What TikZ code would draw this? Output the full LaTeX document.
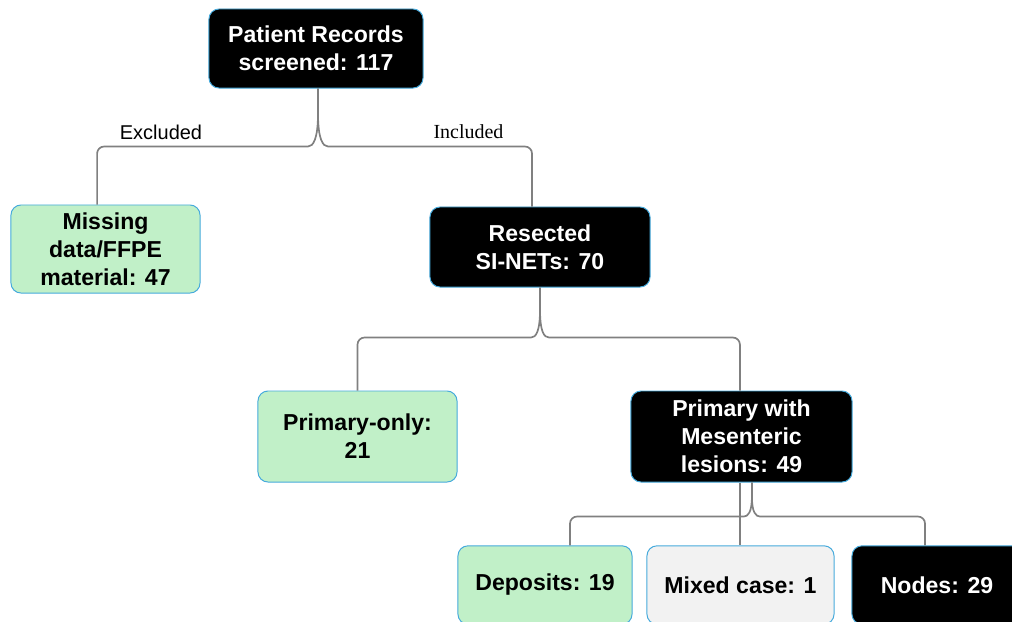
\documentclass[tikz,border=0pt]{standalone}
\usepackage{fontspec}
\setmainfont{Liberation Sans}
\newfontfamily\seriffont{Liberation Serif}
\definecolor{boxgreen}{RGB}{193,240,200}
\definecolor{boxgrey}{RGB}{242,242,242}
\definecolor{boxline}{RGB}{70,170,220}
\definecolor{linkgrey}{RGB}{128,128,128}
\tikzset{
  box/.style={draw=boxline,line width=0.7pt,rounded corners=2.5mm,align=center,
    font=\fontsize{16.4}{19.9}\selectfont\bfseries,inner sep=0pt},
  darkbox/.style={box,fill=black,text=white},
  greenbox/.style={box,fill=boxgreen},
  greybox/.style={box,fill=boxgrey},
  link/.style={draw=linkgrey,line width=1.2pt},
  lbl/.style={font=\fontsize{14.2}{17}\selectfont}
}

\begin{document}
\begin{tikzpicture}[x=0.025cm,y=-0.025cm]
      \useasboundingbox (0,0) rectangle (1012,621);

      \node[darkbox,minimum width=5.35cm,minimum height=1.975cm] (PR) at (316,48.5) {Patient Records\\screened: 117};
      \node[greenbox,minimum width=4.725cm,minimum height=2.2cm] (EX) at (105.5,249) {Missing\\data/FFPE\\material: 47};
      \node[darkbox,minimum width=5.5cm,minimum height=2cm] (RS) at (540,247) {Resected\\SI-NETs: 70};
      \node[greenbox,minimum width=4.975cm,minimum height=2.275cm] (PO) at (357.5,436.5) {Primary-only:\\21};
      \node[darkbox,minimum width=5.525cm,minimum height=2.275cm] (PM) at (741.5,436.5) {Primary with\\Mesenteric\\lesions: 49};
      \node[greenbox,minimum width=4.35cm,minimum height=1.96cm] (DP) at (545,585) {Deposits: 19};
      \node[greybox,minimum width=4.675cm,minimum height=1.96cm] (MX) at (740.5,585) {Mixed case: 1};
      \node[darkbox,minimum width=4.25cm,minimum height=1.96cm] (ND) at (937,585) {Nodes: 29};

      \node[lbl] (LE) at (161,132) {Excluded};
      \node[lbl,font=\fontsize{14.2}{17}\selectfont\seriffont] (LI) at (468.5,132) {Included};

      \draw[link] ([xshift=0.5mm]PR.south) -- ++(0,25) .. controls +(0,26) and +(5,0) .. ++(-10,33)
        [rounded corners=5pt] -| ([xshift=-2.1mm]EX.north);
      \draw[link] ([xshift=0.5mm]PR.south) -- ++(0,25) .. controls +(0,26) and +(-5,0) .. ++(10,33)
        [rounded corners=5pt] -| ([xshift=-2mm]RS.north);

      \draw[link] (RS.south) -- ++(0,22) .. controls +(0,22) and +(5,0) .. ++(-9,28)
        [rounded corners=5pt] -| (PO.north);
      \draw[link] (RS.south) -- ++(0,22) .. controls +(0,22) and +(-5,0) .. ++(9,28)
        [rounded corners=5pt] -| ([xshift=-0.4mm]PM.north);

      \draw[link] ([xshift=2.6mm]PM.south) -- ++(0,14) .. controls +(0,16) and +(4,0) .. ++(-8,20)
        [rounded corners=5pt] -| ([xshift=6.25mm]DP.north);
      \draw[link] ([xshift=2.6mm]PM.south) -- ++(0,14) .. controls +(0,16) and +(-4,0) .. ++(8,20)
        [rounded corners=5pt] -| ([xshift=-3mm]ND.north);
      \draw[link] ([xshift=-0.15mm]PM.south -| MX.north) -- ([xshift=-0.15mm]MX.north);
\end{tikzpicture}
\end{document}
